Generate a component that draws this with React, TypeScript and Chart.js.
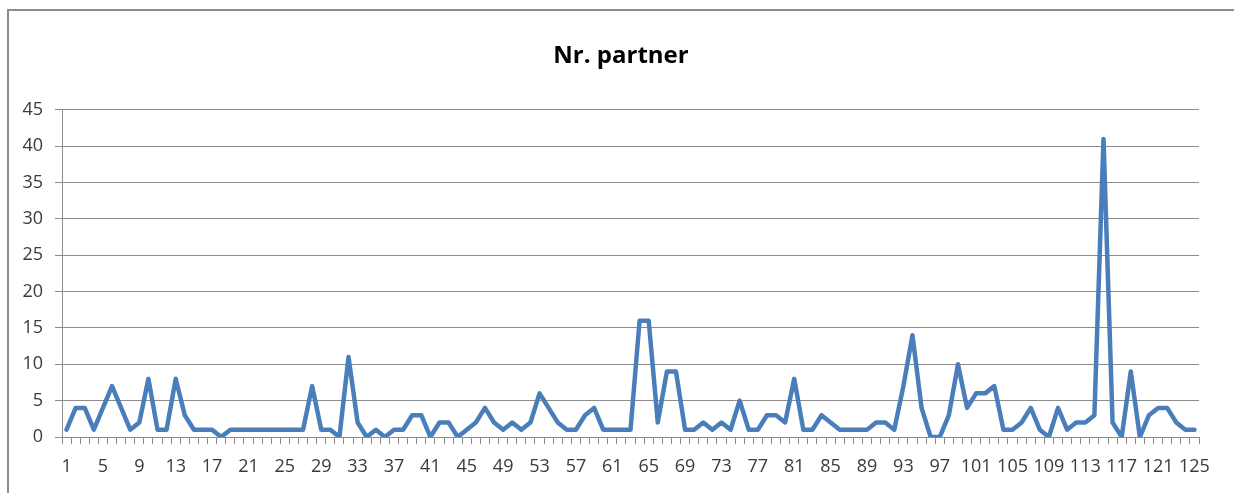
import React, { useEffect, useRef } from 'react';
import { Chart, registerables } from 'chart.js';

Chart.register(...registerables);

const categories: string[] = [
  '1','2','3','4','5','6','7','8','9','10',
  '11','12','13','14','15','16','17','18','19','20',
  '21','22','23','24','25','26','27','28','29','30',
  '31','32','33','34','35','36','37','38','39','40',
  '41','42','43','44','45','46','47','48','49','50',
  '51','52','53','54','55','56','57','58','59','60',
  '61','62','63','64','65','66','67','68','69','70',
  '71','72','73','74','75','76','77','78','79','80',
  '81','82','83','84','85','86','87','88','89','90',
  '91','92','93','94','95','96','97','98','99','100',
  '101','102','103','104','105','106','107','108','109','110',
  '111','112','113','114','115','116','117','118','119','120',
  '121','122','123','124','125',
];

const partners: number[] = [
  1, 4, 4, 1, 4, 7, 4, 1, 2, 8,
  1, 1, 8, 3, 1, 1, 1, 0, 1, 1,
  1, 1, 1, 1, 1, 1, 1, 7, 1, 1,
  0, 11, 2, 0, 1, 0, 1, 1, 3, 3,
  0, 2, 2, 0, 1, 2, 4, 2, 1, 2,
  1, 2, 6, 4, 2, 1, 1, 3, 4, 1,
  1, 1, 1, 16, 16, 2, 9, 9, 1, 1,
  2, 1, 2, 1, 5, 1, 1, 3, 3, 2,
  8, 1, 1, 3, 2, 1, 1, 1, 1, 2,
  2, 1, 7, 14, 4, 0, 0, 3, 10, 4,
  6, 6, 7, 1, 1, 2, 4, 1, 0, 4,
  1, 2, 2, 3, 41, 2, 0, 9, 0, 3,
  4, 4, 2, 1, 1,
];

const yMin = 0;
const yMax = 45;
const yStep = 5;
const labelEvery = 4;
const chartTitle = 'Nr. partner';

const GRID = '#8c8c8c';
const TEXT = '#3a3a3a';
const LINE = '#4a7ebb';

export default function App() {
  const ref = useRef<HTMLCanvasElement | null>(null);

  useEffect(() => {
    if (!ref.current) return;
    const chart = new Chart(ref.current, {
      type: 'line',
      data: {
        labels: categories,
        datasets: [
          {
            label: chartTitle,
            data: partners,
            borderColor: LINE,
            backgroundColor: LINE,
            borderWidth: 4.5,
            pointRadius: 0,
            pointHoverRadius: 0,
            tension: 0,
            borderJoinStyle: 'round',
            borderCapStyle: 'round',
            fill: false,
          },
        ],
      },
      options: {
        responsive: false,
        animation: false,
        layout: { padding: { left: 8, right: 0, top: 0, bottom: 0 } },
        plugins: {
          legend: { display: false },
          tooltip: { enabled: false },
          title: {
            display: true,
            text: chartTitle,
            color: '#000000',
            font: { family: "'Open Sans', 'Noto Sans', sans-serif", size: 24, weight: 'bold' },
            padding: { top: 42, bottom: 39 },
          },
        },
        scales: {
          x: {
            type: 'category',
            offset: true,
            afterFit: (s: any) => { s.height = 56; },
            grid: {
              display: true,
              offset: true,
              drawOnChartArea: false,
              drawTicks: true,
              tickLength: 7,
              color: GRID,
              lineWidth: 1,
            },
            border: { display: true, color: GRID, width: 1 },
            ticks: {
              autoSkip: false,
              maxRotation: 0,
              minRotation: 0,
              padding: 12,
              color: TEXT,
              font: { family: "'Open Sans', 'Noto Sans', sans-serif", size: 18 },
              callback: (_v: any, i: number) => (i % labelEvery === 0 ? categories[i] : ''),
            },
          },
          y: {
            min: yMin,
            max: yMax,
            afterFit: (s: any) => { s.width = 54; },
            grid: {
              display: true,
              drawOnChartArea: true,
              drawTicks: true,
              tickLength: 7,
              color: GRID,
              lineWidth: 1,
            },
            border: { display: true, color: GRID, width: 1 },
            ticks: {
              stepSize: yStep,
              padding: 12,
              color: TEXT,
              font: { family: "'Open Sans', 'Noto Sans', sans-serif", size: 18 },
            },
          },
          yRight: {
            position: 'right',
            display: true,
            min: yMin,
            max: yMax,
            afterFit: (s: any) => { s.width = 35; },
            grid: { display: false, drawTicks: false },
            border: { display: false },
            ticks: { display: false },
          },
        },
      },
    });
    return () => chart.destroy();
  }, []);

  return (
    <div
      style={{
        position: 'fixed',
        left: 0,
        top: 0,
        width: 1234,
        height: 493,
        background: '#ffffff',
        overflow: 'hidden',
      }}
    >
      <div
        style={{
          position: 'absolute',
          left: 7,
          top: 9,
          width: 1240,
          height: 500,
          borderLeft: `2px solid ${GRID}`,
          borderTop: `2px solid ${GRID}`,
        }}
      />
      <canvas
        ref={ref}
        width={1234}
        height={493}
        style={{ position: 'absolute', left: 0, top: 0, width: 1234, height: 493 }}
      />
    </div>
  );
}
